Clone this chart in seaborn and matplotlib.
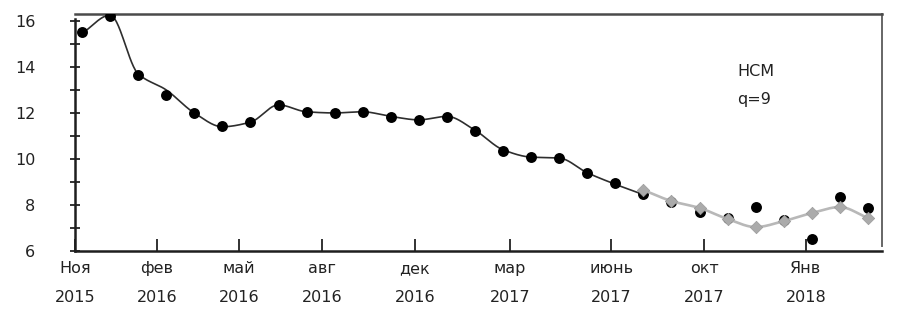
import numpy as np
import pandas as pd
import matplotlib
matplotlib.use("Agg")
import matplotlib.pyplot as plt
import seaborn as sns

# ---- data ----
obs = list(range(29))  # monthly observations, Nov 2015 ... Mar 2018
actual = [15.52, 16.22, 13.65, 12.78, 12.0, 11.43, 11.6, 12.35, 12.04, 12.0,
          12.04, 11.83, 11.7, 11.83, 11.22, 10.35, 10.09, 10.04, 9.39, 8.96,
          8.48, 8.13, 7.7, 7.43, 7.91, 7.35, 6.52, 8.35, 7.87]
fit_obs = list(range(21))
fit = [15.45, 16.25, 13.7, 13.0, 12.0, 11.4, 11.6, 12.35, 12.05, 12.0,
       12.05, 11.85, 11.7, 11.85, 11.25, 10.4, 10.08, 10.04, 9.4, 8.9, 8.45]
fc_obs = list(range(20, 29))
forecast = [8.65, 8.17, 7.87, 7.39, 7.04, 7.3, 7.65, 7.91, 7.43]

tick_pos = [-0.25, 2.67, 5.59, 8.55, 11.86, 15.25, 18.85, 22.16, 25.79]
tick_labels = ["Ноя\n2015", "фев\n2016", "май\n2016", "авг\n2016", "дек\n2016",
               "мар\n2017", "июнь\n2017", "окт\n2017", "Янв\n2018"]
yticks = [6, 8, 10, 12, 14, 16]


def smooth(x, y, n=30):
    """Shape-preserving cubic Hermite rendering of a line through the values."""
    x = np.asarray(x, float)
    y = np.asarray(y, float)
    d = np.diff(y) / np.diff(x)
    m = np.zeros_like(y)
    m[0], m[-1] = d[0], d[-1]
    for k in range(1, len(y) - 1):
        if d[k - 1] * d[k] <= 0:
            m[k] = 0.0
        else:
            m[k] = 2.0 / (1.0 / d[k - 1] + 1.0 / d[k])
    xs, ys = [], []
    for k in range(len(x) - 1):
        h = x[k + 1] - x[k]
        t = np.linspace(0, 1, n, endpoint=(k == len(x) - 2))
        h00 = 2 * t**3 - 3 * t**2 + 1
        h10 = t**3 - 2 * t**2 + t
        h01 = -2 * t**3 + 3 * t**2
        h11 = t**3 - t**2
        ys.append(h00 * y[k] + h10 * h * m[k] + h01 * y[k + 1] + h11 * h * m[k + 1])
        xs.append(x[k] + t * h)
    return np.concatenate(xs), np.concatenate(ys)


sns.set_theme(style="white")
plt.rcParams["font.family"] = ["DejaVu Sans"]

fig = plt.figure(figsize=(9.04, 3.16), dpi=100)
ax = fig.add_axes([75 / 904, 1 - 251 / 316, (882 - 75) / 904, (251 - 14) / 316])

fx, fy = smooth(fit_obs, fit)
sns.lineplot(x=fx, y=fy, ax=ax, color="#2e2e2e", linewidth=1.2, sort=False,
             estimator=None, zorder=2)
df_act = pd.DataFrame({"obs": obs, "value": actual})
sns.scatterplot(data=df_act, x="obs", y="value", ax=ax, color="black", s=62,
                marker="o", edgecolor="black", linewidth=0, zorder=3)
gx, gy = smooth(fc_obs, forecast)
sns.lineplot(x=gx, y=gy, ax=ax, color="#b8b8b8", linewidth=1.9, sort=False,
             estimator=None, zorder=4)
df_fc = pd.DataFrame({"obs": fc_obs, "value": forecast})
sns.scatterplot(data=df_fc, x="obs", y="value", ax=ax, color="#ababab", s=40,
                marker="D", edgecolor="#9a9a9a", linewidth=0.5, zorder=5)

ax.set_xlim(-0.25, 28.5)
ax.set_ylim(6, 16.3)
ax.set_xlabel("")
ax.set_ylabel("")

ax.set_xticks(tick_pos)
ax.set_xticklabels(tick_labels, linespacing=2.1)
ax.set_yticks(yticks)
ax.set_yticks([7, 9, 11, 13, 15], minor=True)
ax.set_yticklabels([str(v) for v in yticks])

ax.tick_params(axis="x", which="major", direction="in", length=9, width=1.3,
               color="#222222", pad=7.5, labelsize=11.5, labelcolor="#222222")
ax.tick_params(axis="y", which="both", direction="inout", length=7, width=1.3,
               color="#222222", pad=25, labelsize=11.5, labelcolor="#222222",
               left=True)
ax.tick_params(axis="x", bottom=True)

for side in ["left", "bottom"]:
    ax.spines[side].set_color("#1e1e1e")
    ax.spines[side].set_linewidth(1.8)
ax.spines["top"].set_color("#4a4a4a")
ax.spines["top"].set_linewidth(1.8)
ax.spines["right"].set_color("#666666")
ax.spines["right"].set_linewidth(1.4)
ax.spines["left"].set_bounds(6, 16.1)
ax.spines["right"].set_bounds(6.2, 16.3)

ax.text(23.35, 13.78, "НСМ", fontsize=11.5, color="#222222", va="center", ha="left")
ax.text(23.35, 12.57, "q=9", fontsize=11.5, color="#222222", va="center", ha="left")

fig.savefig("out.png", dpi=100)
